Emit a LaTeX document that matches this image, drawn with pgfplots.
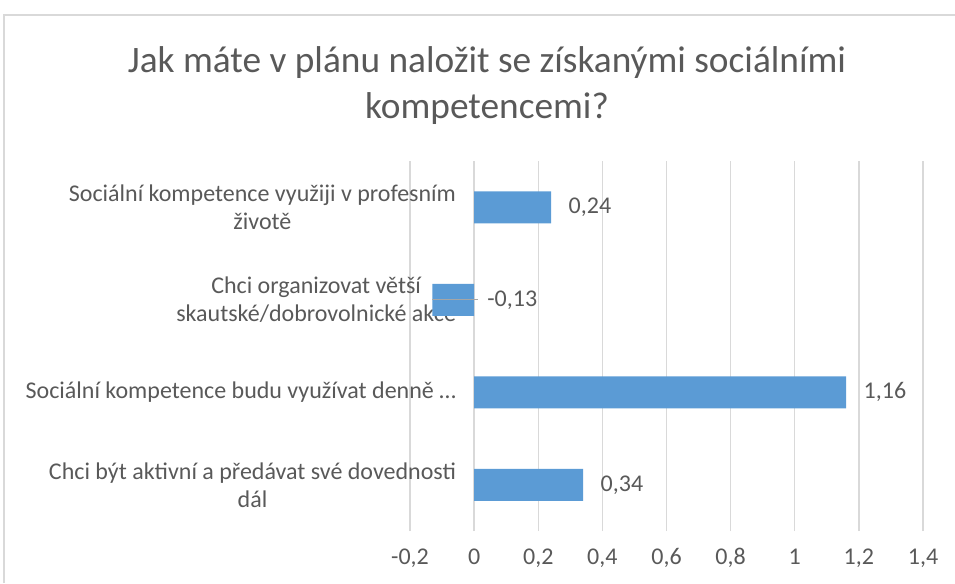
\documentclass[border=0pt]{standalone}
\usepackage{fontspec}
\setmainfont{Carlito}
\usepackage{pgfplots}
\pgfplotsset{compat=1.18}
\pgfplotsset{layers/labelsontop/.define layer set={
  axis background,axis grid,axis ticks,axis lines,pre main,main,
  axis tick labels,axis descriptions,axis foreground}{}}
\definecolor{barblue}{HTML}{5B9BD5}
\definecolor{txt}{HTML}{595959}
\definecolor{gridc}{HTML}{D9D9D9}
\definecolor{leader}{HTML}{A6A6A6}

\begin{document}
\begin{tikzpicture}[x=0.75pt,y=0.75pt]
\draw[gridc, line width=1.2pt] (4,0) -- (4,568) -- (955,568);
\node[txt, font=\fontsize{28}{34}\selectfont, align=center] at (487,497.5)
  {Jak máte v plánu naložit se získanými sociálními\\kompetencemi?};
\begin{axis}[
  set layers=labelsontop,
  at={(307.5pt,39pt)}, anchor=south west,
  scale only axis, width=384.75pt, height=277.5pt,
  xmin=-0.2, xmax=1.4, ymin=-0.5, ymax=3.5,
  xtick={-0.2,0,0.2,0.4,0.6,0.8,1,1.2,1.4},
  ytick={0,1,2,3},
  yticklabels={{Chci být aktivní a předávat své dovednosti\\dál},
               {Sociální kompetence budu využívat denně …},
               {Chci organizovat větší\\skautské/dobrovolnické akce},
               {Sociální kompetence využiji v profesním\\životě}},
  axis line style={draw=none},
  major tick length=0pt,
  xmajorgrids, ymajorgrids=false,
  major grid style={gridc, line width=1.1pt},
  /pgf/number format/assume math mode=true,
  /pgf/number format/use comma,
  xticklabel style={font=\fontsize{18}{21}\selectfont, text=txt,
    anchor=base, yshift=-25pt, /pgf/number format/fixed},
  yticklabel style={font=\fontsize{18}{21}\selectfont, text=txt, align=center,
    anchor=east, xshift=38pt},
]
\addplot[xbar, bar width=24pt, bar shift=0pt, fill=barblue, draw=none,
  nodes near coords,
  point meta=x,
  visualization depends on={rawx \as \rx},
  nodes near coords style={font=\fontsize{18}{21}\selectfont, text=txt,
    anchor=west, inner sep=0pt,
    xshift={ifthenelse(\rx<0,41,13)},
    /pgf/number format/fixed, /pgf/number format/fixed zerofill,
    /pgf/number format/precision=2},
] coordinates {
  (0.34,0)
  (1.16,1)
  (-0.13,2)
  (0.24,3)
};
\addplot[sharp plot, leader, line width=1.1pt, mark=none, forget plot]
  coordinates {(-0.13,2) (0.013,2)};
\end{axis}
\pgfresetboundingbox
\useasboundingbox (0,0) rectangle (955,583);
\end{tikzpicture}
\end{document}
